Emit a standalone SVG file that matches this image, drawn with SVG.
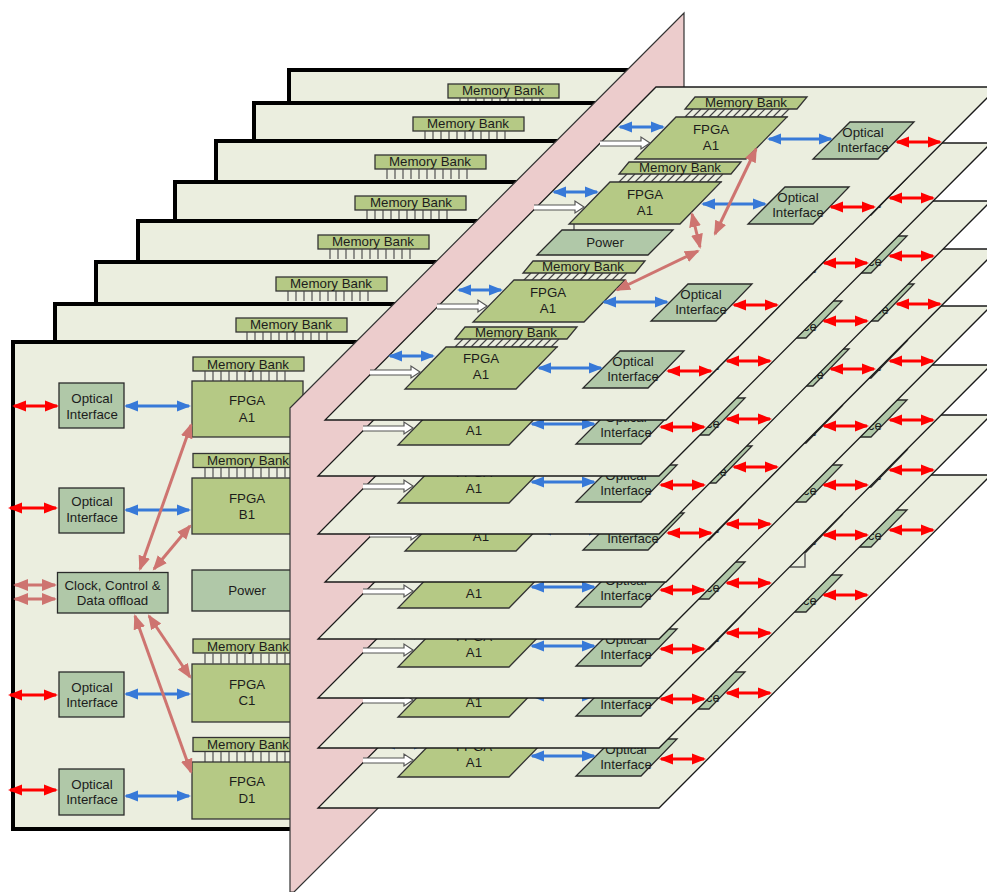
<svg xmlns="http://www.w3.org/2000/svg" width="987" height="892" viewBox="0 0 987 892">
<style>
text{font-family:"Liberation Sans",Arial,sans-serif;font-size:13.3px;text-anchor:middle;fill:#1c1c1c}
.board{fill:#ebeedf;stroke:#000;stroke-width:4;stroke-linejoin:miter}
.mem,.fpga{fill:#b5c985;stroke:#333;stroke-width:1.3}
.opt{fill:#b0c8a8;stroke:#2a2a2a;stroke-width:1.3}
.pins{fill:none;stroke:#444;stroke-width:1.1}
.sheet{fill:#ebeedf;stroke:#1a1a1a;stroke-width:1.3}
.red{stroke:#f00;stroke-width:3;fill:none;marker-start:url(#ar);marker-end:url(#ar)}
.blue{stroke:#3779d8;stroke-width:3;fill:none;marker-start:url(#ab);marker-end:url(#ab)}
.pink{stroke:#ce7470;stroke-width:3;fill:none;marker-start:url(#ap);marker-end:url(#ap)}
.hollow{fill:#fff;stroke:#555;stroke-width:1.2}
</style>
<defs>
<marker id="ar" markerUnits="userSpaceOnUse" markerWidth="15" markerHeight="12" refX="12" refY="6" orient="auto-start-reverse"><path d="M0,.5L14,6L0,11.5z" fill="#f00"/></marker>
<marker id="ab" markerUnits="userSpaceOnUse" markerWidth="15" markerHeight="12" refX="12" refY="6" orient="auto-start-reverse"><path d="M0,.5L14,6L0,11.5z" fill="#3779d8"/></marker>
<marker id="ap" markerUnits="userSpaceOnUse" markerWidth="17" markerHeight="14" refX="13" refY="7" orient="auto-start-reverse"><path d="M0,1L15,7L0,13z" fill="#ce7470"/></marker>
<polygon id="sheet" class="sheet" points="325,420 666,420 998,87 656,87"/>
<polygon id="fpga" class="fpga" points="41,0 152,0 111,42 0,42"/>
<polygon id="opt" class="opt" points="37,0 101,0 65,37 0,37"/>
<g id="memp">
<path class="pins" d="M1,20H103M0,20l8-8M8,20l8-8M16,20l8-8M24,20l8-8M32,20l8-8M40,20l8-8M48,20l8-8M56,20l8-8M64,20l8-8M72,20l8-8M80,20l8-8M88,20l8-8M96,20l8-8"/>
<polygon class="mem" points="10,0 122,0 112,12 0,12"/>
</g>
<path id="pinrow" class="pins" d="M0,0V10M8,0V10M16,0V10M24,0V10M32,0V10M40,0V10M48,0V10M56,0V10M64,0V10M72,0V10M80,0V10"/>
<path id="hollow" class="hollow" d="M370,370H411V366L420,372L411,378V375H370"/>
<g id="links-lower">
<line class="red" x1="897" y1="142" x2="940" y2="142"/>
<line class="red" x1="831" y1="207" x2="874" y2="207"/>
<line class="red" x1="734" y1="305" x2="777" y2="305"/>
<line class="red" x1="668" y1="371" x2="711" y2="371"/>
<line class="blue" x1="390" y1="356" x2="433" y2="356"/>
<line class="blue" x1="539" y1="368" x2="601" y2="368"/>
<use href="#hollow"/>
</g>
</defs>

<g id="board-8"><rect class="board" x="289" y="70" width="355" height="45"/><rect class="mem" x="448" y="84" width="111" height="14"/><use href="#pinrow" x="460" y="98"/><text x="503" y="95">Memory Bank</text></g>
<g id="board-7"><rect class="board" x="254" y="103" width="355" height="50"/><rect class="mem" x="413" y="117" width="111" height="14"/><use href="#pinrow" x="425" y="131"/><text x="468" y="128">Memory Bank</text></g>
<g id="board-6"><rect class="board" x="216" y="141" width="355" height="55"/><rect class="mem" x="375" y="155" width="111" height="14"/><use href="#pinrow" x="387" y="169"/><text x="430" y="166">Memory Bank</text></g>
<g id="board-5"><rect class="board" x="175" y="182" width="355" height="55"/><rect class="mem" x="355" y="196" width="111" height="14"/><use href="#pinrow" x="367" y="210"/><text x="411" y="207">Memory Bank</text></g>
<g id="board-4"><rect class="board" x="138" y="221" width="355" height="55"/><rect class="mem" x="318" y="235" width="111" height="14"/><use href="#pinrow" x="330" y="249"/><text x="373" y="246">Memory Bank</text></g>
<g id="board-3"><rect class="board" x="96" y="262" width="355" height="55"/><rect class="mem" x="276" y="277" width="111" height="14"/><use href="#pinrow" x="288" y="291"/><text x="331" y="288">Memory Bank</text></g>
<g id="board-2"><rect class="board" x="55" y="304" width="355" height="55"/><rect class="mem" x="236" y="318" width="111" height="14"/><use href="#pinrow" x="247" y="332"/><text x="291" y="329">Memory Bank</text></g>

<g id="board-1"><polygon class="board" points="13,342 365,342 340,829 13,829"/></g>
<g id="front-oi-1"><rect class="opt" x="59" y="383" width="65" height="45"/><text x="92" y="402.5">Optical</text><text x="92" y="418.5">Interface</text></g>
<g id="front-oi-2"><rect class="opt" x="59" y="488" width="65" height="45"/><text x="92" y="506">Optical</text><text x="92" y="522">Interface</text></g>
<g id="front-oi-3"><rect class="opt" x="59" y="672" width="65" height="45"/><text x="92" y="691.5">Optical</text><text x="92" y="707">Interface</text></g>
<g id="front-oi-4"><rect class="opt" x="59" y="769" width="65" height="46"/><text x="92" y="788.5">Optical</text><text x="92" y="804">Interface</text></g>
<g id="front-clock"><rect class="opt" x="57.500" y="572.500" width="110.500" height="40.500"/><text x="112.500" y="589.500">Clock, Control &amp;</text><text x="112.500" y="605">Data offload</text></g>
<g id="front-power"><rect class="opt" x="192" y="570" width="111" height="41"/><text x="247" y="595">Power</text></g>
<g id="front-a"><rect class="mem" x="193" y="357" width="111" height="14"/><use href="#pinrow" x="205" y="371"/><rect class="fpga" x="192" y="381" width="111" height="56"/><text x="248" y="368.500">Memory Bank</text><text x="247" y="405">FPGA</text><text x="247" y="422">A1</text></g>
<g id="front-b"><rect class="mem" x="193" y="453.500" width="111" height="14"/><use href="#pinrow" x="205" y="467.500"/><rect class="fpga" x="192" y="478" width="111" height="56"/><text x="248" y="465">Memory Bank</text><text x="247" y="503">FPGA</text><text x="247" y="518.500">B1</text></g>
<g id="front-c"><rect class="mem" x="193" y="639" width="111" height="14"/><use href="#pinrow" x="205" y="653.500"/><rect class="fpga" x="192" y="664" width="111" height="58"/><text x="248" y="650.500">Memory Bank</text><text x="247" y="689">FPGA</text><text x="247" y="705">C1</text></g>
<g id="front-d"><rect class="mem" x="193" y="737.500" width="111" height="14"/><use href="#pinrow" x="205" y="752"/><rect class="fpga" x="192" y="762" width="111" height="57"/><text x="248" y="749">Memory Bank</text><text x="247" y="786">FPGA</text><text x="247" y="803">D1</text></g>
<g id="front-connectors">
<line class="red" x1="14" y1="406" x2="57" y2="406"/>
<line class="red" x1="10" y1="508" x2="56" y2="508"/>
<line class="red" x1="10" y1="695" x2="56" y2="695"/>
<line class="red" x1="10" y1="790" x2="56" y2="790"/>
<line class="blue" x1="126" y1="406" x2="189" y2="406"/>
<line class="blue" x1="126" y1="510" x2="189" y2="510"/>
<line class="blue" x1="126" y1="694" x2="189" y2="694"/>
<line class="blue" x1="126" y1="796" x2="189" y2="796"/>
<line class="pink" x1="15" y1="585" x2="55" y2="585"/>
<line class="pink" x1="15" y1="599" x2="55" y2="599"/>
<line class="pink" x1="140" y1="569" x2="191" y2="425"/>
<line class="pink" x1="154" y1="569" x2="190" y2="526"/>
<line class="pink" x1="135" y1="616" x2="191" y2="772"/>
<line class="pink" x1="149" y1="616" x2="190" y2="677"/>
</g>

<polygon id="midplane" points="290,408 684,13 684,503 294,892 290,892" fill="#eccccc" stroke="#333" stroke-width="1.2"/>

<g id="sheet-8" transform="translate(-7 388)"><use href="#sheet"/>
<g id="s8-oi-r1"><use href="#opt" x="813" y="122"/><text x="863" y="136.500">Optical</text><text x="863" y="151.500">Interface</text></g>
<g id="s8-oi-r2"><use href="#opt" x="748" y="187"/><text x="798" y="201.500">Optical</text><text x="798" y="216.500">Interface</text></g>
<g id="s8-oi-r3"><use href="#opt" x="651" y="284"/><text x="701" y="298.500">Optical</text><text x="701" y="313.500">Interface</text></g>
<g id="s8-oi-r4"><use href="#opt" x="583" y="351"/><text x="633" y="365.500">Optical</text><text x="633" y="380.500">Interface</text></g>
<g id="s8-fpga"><use href="#fpga" x="405" y="347"/><text x="481" y="362.500">FPGA</text><text x="481" y="378.500">A1</text></g>
<use href="#links-lower"/></g>

<g id="sheet-7" transform="translate(-7 328)"><use href="#sheet"/>
<polyline points="797,239 812,239 812,224" fill="none" stroke="#555" stroke-width="1.4"/>
<g id="s7-oi-r1"><use href="#opt" x="813" y="122"/><text x="863" y="136.500">Optical</text><text x="863" y="151.500">Interface</text></g>
<g id="s7-oi-r2"><use href="#opt" x="748" y="187"/><text x="798" y="201.500">Optical</text><text x="798" y="216.500">Interface</text></g>
<g id="s7-oi-r3"><use href="#opt" x="651" y="284"/><text x="701" y="298.500">Optical</text><text x="701" y="313.500">Interface</text></g>
<g id="s7-oi-r4"><use href="#opt" x="583" y="351"/><text x="633" y="365.500">Optical</text><text x="633" y="380.500">Interface</text></g>
<g id="s7-fpga"><use href="#fpga" x="405" y="347"/><text x="481" y="362.500">FPGA</text><text x="481" y="378.500">A1</text></g>
<use href="#links-lower"/></g>

<g id="sheet-6" transform="translate(-7 278)"><use href="#sheet"/>
<g id="s6-oi-r1"><use href="#opt" x="813" y="122"/><text x="863" y="136.500">Optical</text><text x="863" y="151.500">Interface</text></g>
<g id="s6-oi-r2"><use href="#opt" x="748" y="187"/><text x="798" y="201.500">Optical</text><text x="798" y="216.500">Interface</text></g>
<g id="s6-oi-r3"><use href="#opt" x="651" y="284"/><text x="701" y="298.500">Optical</text><text x="701" y="313.500">Interface</text></g>
<g id="s6-oi-r4"><use href="#opt" x="583" y="351"/><text x="633" y="365.500">Optical</text><text x="633" y="380.500">Interface</text></g>
<g id="s6-fpga"><use href="#fpga" x="405" y="347"/><text x="481" y="362.500">FPGA</text><text x="481" y="378.500">A1</text></g>
<use href="#links-lower"/></g>

<g id="sheet-5" transform="translate(-7 219)"><use href="#sheet"/>
<g id="s5-oi-r1"><use href="#opt" x="813" y="122"/><text x="863" y="136.500">Optical</text><text x="863" y="151.500">Interface</text></g>
<g id="s5-oi-r2"><use href="#opt" x="748" y="187"/><text x="798" y="201.500">Optical</text><text x="798" y="216.500">Interface</text></g>
<g id="s5-oi-r3"><use href="#opt" x="651" y="284"/><text x="701" y="298.500">Optical</text><text x="701" y="313.500">Interface</text></g>
<g id="s5-oi-r4"><use href="#opt" x="583" y="351"/><text x="633" y="365.500">Optical</text><text x="633" y="380.500">Interface</text></g>
<g id="s5-fpga"><use href="#fpga" x="405" y="347"/><text x="481" y="362.500">FPGA</text><text x="481" y="378.500">A1</text></g>
<use href="#links-lower"/></g>

<g id="sheet-4" transform="translate(0 162)"><use href="#sheet"/>
<g id="s4-oi-r1"><use href="#opt" x="813" y="122"/><text x="863" y="136.500">Optical</text><text x="863" y="151.500">Interface</text></g>
<g id="s4-oi-r2"><use href="#opt" x="748" y="187"/><text x="798" y="201.500">Optical</text><text x="798" y="216.500">Interface</text></g>
<g id="s4-oi-r3"><use href="#opt" x="651" y="284"/><text x="701" y="298.500">Optical</text><text x="701" y="313.500">Interface</text></g>
<g id="s4-oi-r4"><use href="#opt" x="583" y="351"/><text x="633" y="365.500">Optical</text><text x="633" y="380.500">Interface</text></g>
<g id="s4-fpga"><use href="#fpga" x="405" y="347"/><text x="481" y="362.500">FPGA</text><text x="481" y="378.500">A1</text></g>
<use href="#links-lower"/></g>

<g id="sheet-3" transform="translate(-7 114)"><use href="#sheet"/>
<g id="s3-oi-r1"><use href="#opt" x="813" y="122"/><text x="863" y="136.500">Optical</text><text x="863" y="151.500">Interface</text></g>
<g id="s3-oi-r2"><use href="#opt" x="748" y="187"/><text x="798" y="201.500">Optical</text><text x="798" y="216.500">Interface</text></g>
<g id="s3-oi-r3"><use href="#opt" x="651" y="284"/><text x="701" y="298.500">Optical</text><text x="701" y="313.500">Interface</text></g>
<g id="s3-oi-r4"><use href="#opt" x="583" y="351"/><text x="633" y="365.500">Optical</text><text x="633" y="380.500">Interface</text></g>
<g id="s3-fpga"><use href="#fpga" x="405" y="347"/><text x="481" y="362.500">FPGA</text><text x="481" y="378.500">A1</text></g>
<use href="#links-lower"/></g>

<g id="sheet-2" transform="translate(-7 56)"><use href="#sheet"/>
<g id="s2-oi-r1"><use href="#opt" x="813" y="122"/><text x="863" y="136.500">Optical</text><text x="863" y="151.500">Interface</text></g>
<g id="s2-oi-r2"><use href="#opt" x="748" y="187"/><text x="798" y="201.500">Optical</text><text x="798" y="216.500">Interface</text></g>
<g id="s2-oi-r3"><use href="#opt" x="651" y="284"/><text x="701" y="298.500">Optical</text><text x="701" y="313.500">Interface</text></g>
<g id="s2-oi-r4"><use href="#opt" x="583" y="351"/><text x="633" y="365.500">Optical</text><text x="633" y="380.500">Interface</text></g>
<g id="s2-fpga"><use href="#fpga" x="405" y="347"/><text x="481" y="362.500">FPGA</text><text x="481" y="378.500">A1</text></g>
<use href="#links-lower"/></g>

<g id="sheet-1"><use href="#sheet"/>
<line x1="574" y1="223" x2="574" y2="231" stroke="#666" stroke-width="1.5"/>
<g id="s1-oi-r1"><use href="#opt" x="813" y="122"/><text x="863" y="136.500">Optical</text><text x="863" y="151.500">Interface</text></g>
<g id="s1-oi-r2"><use href="#opt" x="748" y="187"/><text x="798" y="201.500">Optical</text><text x="798" y="216.500">Interface</text></g>
<g id="s1-oi-r3"><use href="#opt" x="651" y="284"/><text x="701" y="298.500">Optical</text><text x="701" y="313.500">Interface</text></g>
<g id="s1-oi-r4"><use href="#opt" x="583" y="351"/><text x="633" y="365.500">Optical</text><text x="633" y="380.500">Interface</text></g>
<g id="s1-power"><polygon class="opt" points="562,230 673,230 648,255 537,255"/><text x="605" y="246.500">Power</text></g>
<g id="s1-r1"><use href="#memp" x="685" y="97"/><use href="#fpga" x="635" y="117"/><text x="746" y="106.500">Memory Bank</text><text x="711" y="133.500">FPGA</text><text x="711" y="149.500">A1</text></g>
<g id="s1-r2"><use href="#memp" x="619" y="162"/><use href="#fpga" x="569" y="182"/><text x="680" y="171.500">Memory Bank</text><text x="645" y="198.500">FPGA</text><text x="645" y="214.500">A1</text></g>
<g id="s1-r3"><use href="#memp" x="523" y="261"/><use href="#fpga" x="473" y="280"/><text x="583" y="270.500">Memory Bank</text><text x="548" y="296.500">FPGA</text><text x="548" y="312.500">A1</text></g>
<g id="s1-r4"><use href="#memp" x="455" y="327"/><use href="#fpga" x="405" y="347"/><text x="516" y="336.500">Memory Bank</text><text x="481" y="362.500">FPGA</text><text x="481" y="378.500">A1</text></g>
<g id="s1-connectors">
<use href="#links-lower"/>
<line class="blue" x1="620" y1="127" x2="663" y2="127"/>
<line class="blue" x1="769" y1="139" x2="831" y2="139"/>
<line class="blue" x1="554" y1="192" x2="597" y2="192"/>
<line class="blue" x1="703" y1="204" x2="765" y2="204"/>
<line class="blue" x1="459" y1="290" x2="501" y2="290"/>
<line class="blue" x1="604" y1="302" x2="667" y2="302"/>
<use href="#hollow" transform="translate(230 -229)"/>
<use href="#hollow" transform="translate(164 -165)"/>
<use href="#hollow" transform="translate(67 -66)"/>
<line class="pink" x1="756" y1="149" x2="715" y2="234"/>
<line class="pink" x1="692" y1="214" x2="700" y2="247"/>
<line class="pink" x1="617" y1="290" x2="698" y2="251"/>
</g>
</g>
</svg>
